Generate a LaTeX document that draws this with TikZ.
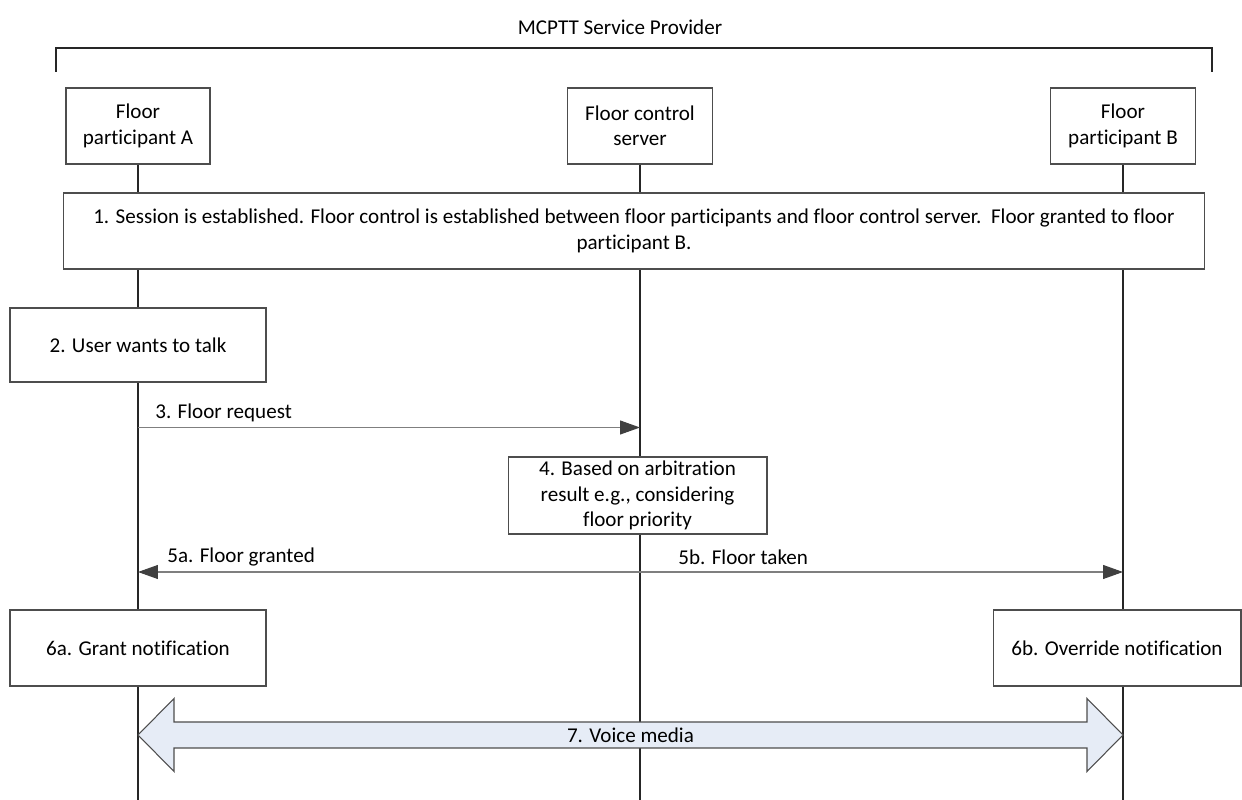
\documentclass[tikz,border=0pt]{standalone}
\usepackage{fontspec}
\setmainfont{Carlito}[Ligatures=NoCommon]
\usetikzlibrary{arrows.meta,calc,backgrounds}
\definecolor{boxc}{HTML}{4D4D4D}
\definecolor{lifec}{HTML}{262626}
\definecolor{msgc}{HTML}{7F7F7F}
\definecolor{tipc}{HTML}{404040}
\definecolor{voicec}{HTML}{E6ECF6}
\newcommand{\dfs}{\fontsize{12pt}{14.4pt}\selectfont}
\tikzset{
  box/.style={draw=boxc, fill=white, line width=0.6pt, align=center, inner sep=2pt, font=\dfs},
  life/.style={draw=lifec, line width=0.6pt},
  msg/.style={draw=msgc, line width=0.6pt},
  tipr/.style={-{Triangle[length=0.4cm,width=0.28cm,color=tipc]}},
  tipb/.style={{Triangle[length=0.4cm,width=0.28cm,color=tipc]}-{Triangle[length=0.4cm,width=0.28cm,color=tipc]}},
  lbl/.style={font=\dfs, inner sep=0pt, anchor=west},
  voice/.style={draw=boxc, fill=voicec, line width=0.6pt, line join=miter},
}
\begin{document}
\begin{tikzpicture}[x=0.02cm,y=-0.02cm]
\useasboundingbox (0,0) rectangle (1242,800);

% title and bracket
\node[font=\dfs] (title) at (620,27) {MCPTT Service Provider};
\coordinate (brL) at (56,72);
\coordinate (brR) at (1212,72);
\draw[draw=lifec, line width=0.6pt] (brL) -- (56,48) -- (1212,48) -- (brR);

% participants
\node[box, minimum width=2.88cm, minimum height=1.52cm] (A) at (138,126) {Floor\\participant A};
\node[box, minimum width=2.9cm, minimum height=1.52cm] (S) at (640,126) {Floor control\\server};
\node[box, minimum width=2.9cm, minimum height=1.52cm] (B) at (1123,126) {Floor\\participant B};

% steps
\node[box, minimum width=22.84cm, minimum height=1.52cm] (s1) at (634,231)
  {1. Session is established. Floor control is established between floor participants and floor control server.\ \ Floor granted to floor\\participant B.};
\node[box, minimum width=5.12cm, minimum height=1.48cm] (s2) at (138,345) {2. User wants to talk};
\node[box, minimum width=5.18cm, minimum height=1.54cm] (s4) at (637.5,495.5)
  {4. Based on arbitration\\result e.g., considering\\floor priority};
\node[box, minimum width=5.12cm, minimum height=1.52cm] (s6a) at (138,648) {6a. Grant notification};
\node[box, minimum width=4.96cm, minimum height=1.52cm] (s6b) at (1117,648) {6b. Override notification};

% lifelines
\coordinate (Aend) at (138,800);
\coordinate (Send) at (640,800);
\coordinate (Bend) at (1123,800);
\begin{scope}[on background layer]
  \draw[life] (A.south) -- (Aend);
  \draw[life] (S.south) -- (Send);
  \draw[life] (B.south) -- (Bend);
\end{scope}

% messages
\coordinate (m3a) at (138,427.5);
\coordinate (m3s) at (640,427.5);
\draw[msg, tipr] (m3a) -- (m3s);
\node[lbl] (l3) at (155,413) {3. Floor request};

\coordinate (m5a) at (138,572);
\coordinate (m5b) at (1123,572);
\draw[msg, tipb] (m5a) -- (m5b);
\node[lbl] (l5a) at (167,557) {5a. Floor granted};
\node[lbl] (l5b) at (678,557) {5b. Floor taken};

% voice media
\coordinate (vA) at (138,735);
\coordinate (vB) at (1123,735);
\draw[voice] (vA) -- ++(36,-36.5) -- ++(0,23.5) -- ($(vB)+(-36,-13)$) -- ++(0,-23.5)
  -- (vB) -- ++(-36,36.5) -- ++(0,-23.5) -- ($(vA)+(36,13)$) -- ++(0,23.5) -- cycle;
\node[font=\dfs, inner sep=0pt] (l7) at ($(vA)!0.5!(vB)$) {7. Voice media};
\end{tikzpicture}
\end{document}
